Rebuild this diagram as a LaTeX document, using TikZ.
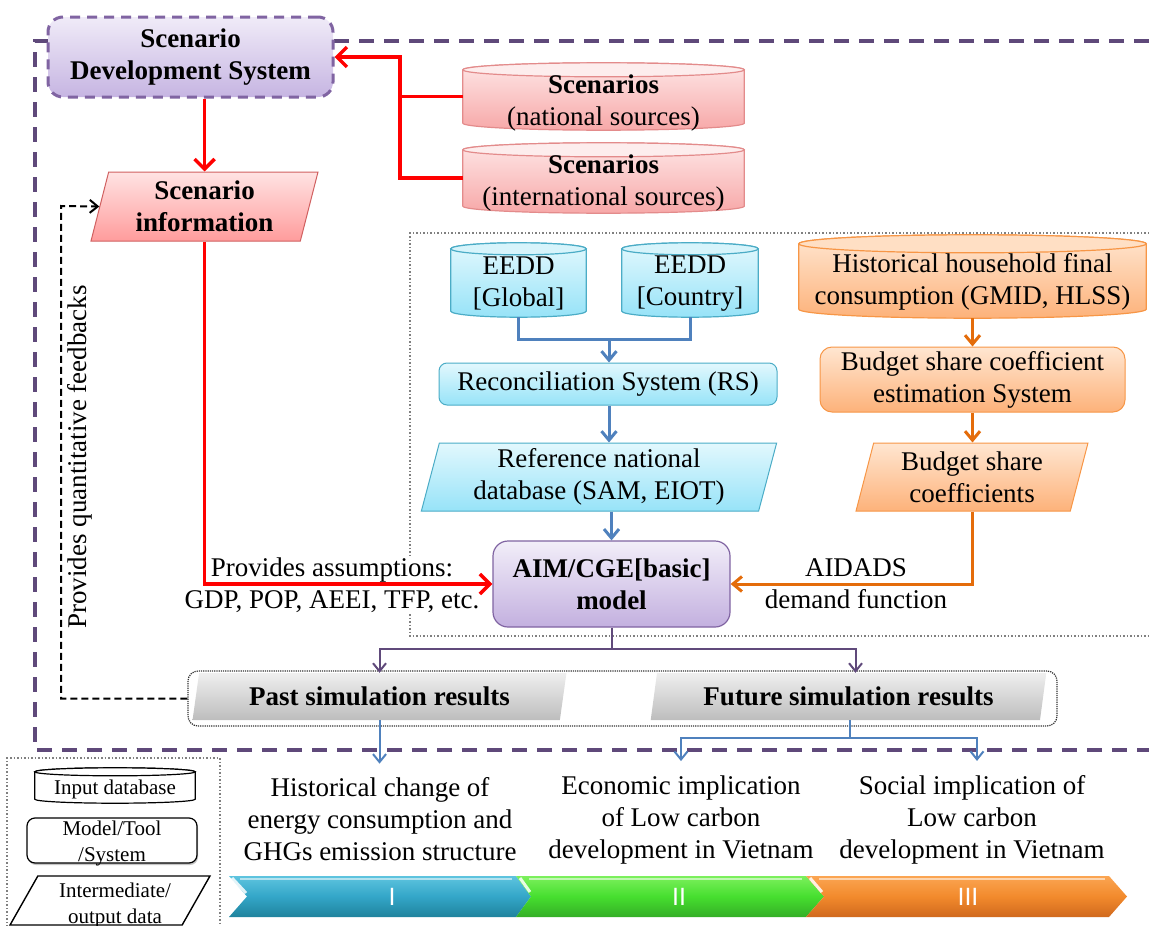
\documentclass[tikz,border=0pt]{standalone}
\usepackage{fontspec}
\setmainfont{Liberation Serif}
\newfontfamily\labsans{Liberation Sans}
\usetikzlibrary{shapes.geometric,arrows.meta,calc,shadows}

\definecolor{frameC}{HTML}{5F497A}
\definecolor{sdsBd}{HTML}{8064A2}
\definecolor{sdsTop}{HTML}{F0EBF8}
\definecolor{sdsBot}{HTML}{C6B5E2}
\definecolor{redBd}{HTML}{E38B8B}
\definecolor{redTop}{HTML}{FEE6E6}
\definecolor{redBot}{HTML}{F7A8A8}
\definecolor{redEll}{HTML}{FDEDED}
\definecolor{siBd}{HTML}{D06060}
\definecolor{siTop}{HTML}{FFE3E3}
\definecolor{siBot}{HTML}{FF9C9C}
\definecolor{blueBd}{HTML}{4BACC6}
\definecolor{blueTop}{HTML}{E2F8FD}
\definecolor{blueBot}{HTML}{97E3F8}
\definecolor{blueEll}{HTML}{D7F4FB}
\definecolor{oraBd}{HTML}{F79646}
\definecolor{oraTop}{HTML}{FFE6D1}
\definecolor{oraBot}{HTML}{FDB27A}
\definecolor{oraEll}{HTML}{FFDFC4}
\definecolor{aimTop}{HTML}{F2EEF9}
\definecolor{aimBot}{HTML}{C3B0DF}
\definecolor{grTop}{HTML}{EFEFEF}
\definecolor{grBot}{HTML}{BDBDBD}
\definecolor{lnRed}{HTML}{FF0000}
\definecolor{lnBlue}{HTML}{4F81BD}
\definecolor{lnOra}{HTML}{E46C0A}
\definecolor{lnPur}{HTML}{604A7B}
\definecolor{bTop}{HTML}{5EC4DF}
\definecolor{bMid}{HTML}{33A6C8}
\definecolor{bBot}{HTML}{1F839D}
\definecolor{gTop}{HTML}{7CF05C}
\definecolor{gMid}{HTML}{46DF2F}
\definecolor{gBot}{HTML}{34AE26}
\definecolor{oTop}{HTML}{FBA552}
\definecolor{oMid}{HTML}{F28A2C}
\definecolor{oBot}{HTML}{D0691E}

\newcommand\drawcyl[6]{%
  \path[draw=#3, line width=1.2pt, top color=#4, bottom color=#5]
    let \p1=(#1.north west), \p2=(#1.south east), \n1={(\x2-\x1)/2} in
    (\x1,\y1-#2pt) -- (\x1,\y2+#2pt)
    arc[start angle=180, end angle=360, x radius=\n1, y radius=#2pt]
    -- (\x2,\y1-#2pt)
    arc[start angle=0, end angle=180, x radius=\n1, y radius=#2pt] -- cycle;
  \path[draw=#3, line width=1.2pt, fill=#6]
    let \p1=(#1.north west), \p2=(#1.south east), \n1={(\x2-\x1)/2} in
    (\x1+\n1,\y1-#2pt) ellipse[x radius=\n1, y radius=#2pt];
}

\tikzset{
  txt/.style={font=\fontsize{27}{32}\selectfont, align=center, inner sep=0pt},
  txtb/.style={font=\fontsize{27}{32}\selectfont\bfseries, align=center, inner sep=0pt},
  lgtxt/.style={font=\fontsize{21}{26}\selectfont, align=center, inner sep=0pt},
  geo/.style={inner sep=0pt, draw=none},
  frameline/.style={draw=frameC, line width=4pt, dash pattern=on 15pt off 10pt},
  graydot/.style={draw=gray, line width=1.5pt, dotted},
  sds/.style={rectangle, rounded corners=15pt, draw=sdsBd, line width=3pt,
    dash pattern=on 10pt off 7pt, top color=sdsTop, bottom color=sdsBot,
    minimum width=285pt, minimum height=80pt, txtb},
  para/.style={trapezium, trapezium stretches=true, trapezium left angle=76,
    trapezium right angle=104, inner sep=0pt},
  siBox/.style={para, draw=siBd, line width=1pt, top color=siTop, bottom color=siBot,
    minimum width=227pt, minimum height=69pt, txtb},
  blueRound/.style={rectangle, rounded corners=8pt, draw=blueBd, line width=1pt,
    top color=blueTop, bottom color=blueBot, txt},
  bluePara/.style={para, draw=blueBd, line width=1pt, top color=blueTop, bottom color=blueBot, txt},
  oraRound/.style={rectangle, rounded corners=12pt, draw=oraBd, line width=1pt,
    top color=oraTop, bottom color=oraBot, txt},
  oraPara/.style={para, draw=oraBd, line width=1pt, top color=oraTop, bottom color=oraBot, txt},
  aimBox/.style={rectangle, rounded corners=15pt, draw=sdsBd, line width=1.2pt,
    top color=aimTop, bottom color=aimBot, minimum width=237pt, minimum height=86pt, txtb},
  simRes/.style={para, draw=none, top color=grTop, bottom color=grBot,
    minimum height=47pt, txtb},
  simFrame/.style={rectangle, rounded corners=10pt, draw=black!80, line width=1.2pt,
    densely dotted, minimum width=869pt, minimum height=55pt, inner sep=0pt},
  lgBox/.style={rectangle, rounded corners=8pt, draw=black, line width=1.2pt, fill=white,
    drop shadow={opacity=0.45, shadow xshift=1pt, shadow yshift=-2pt},
    minimum width=170pt, minimum height=45pt, inner sep=0pt},
  lgPara/.style={trapezium, trapezium stretches=true, trapezium left angle=78,
    trapezium right angle=102, draw=black, line width=1.4pt, fill=white,
    minimum width=200pt, minimum height=49pt, inner sep=0pt},
  redArr/.style={draw=lnRed, line width=3.5pt},
  blueArr/.style={draw=lnBlue, line width=3pt},
  oraArr/.style={draw=lnOra, line width=3pt},
  purArr/.style={draw=lnPur, line width=2pt},
  fbArr/.style={draw=black, line width=2pt, dash pattern=on 7pt off 4pt},
  bigTip/.style={-{Straight Barb[length=10pt,width=20pt]}},
  midTip/.style={-{Straight Barb[length=9pt,width=15pt]}},
  smallTip/.style={-{Straight Barb[length=8pt,width=13pt]}},
  bandLab/.style={font=\labsans\fontsize{25}{28}\selectfont, text=white, inner sep=0pt},
  bandHi/.style={draw=white, line width=2.5pt, opacity=0.55},
}

\begin{document}
\begin{tikzpicture}[x=1pt,y=-1pt]
\useasboundingbox (0,0) rectangle (1149,926);

% frames
\draw[frameline] (1149,41) -- (35,41) -- (35,750) -- (1149,750);
\draw[graydot] (1149,233) -- (410,233) -- (410,636) -- (1149,636);
\draw[graydot] (7,930) -- (7,758) -- (220,758) -- (220,930);

% Scenario Development System
\node[sds] (SDS) at (190.5,57) {Scenario\\Development System};

% Scenario cylinders
\node[geo, minimum width=281pt, minimum height=67pt] (nat) at (603.5,96.5) {};
\drawcyl{nat}{7}{redBd}{redTop}{redBot}{redEll}
\node[txt] (natT) at (603.5,103.5) {\textbf{Scenarios}\\(national sources)};
\node[geo, minimum width=281pt, minimum height=70pt] (intl) at (603.5,178) {};
\drawcyl{intl}{7}{redBd}{redTop}{redBot}{redEll}
\node[txt] (intlT) at (603.5,183.5) {\textbf{Scenarios}\\(international sources)};

% Scenario information
\node[siBox] (SI) at (204.5,206.5) {Scenario\\information};

% EEDD cylinders
\node[geo, minimum width=135pt, minimum height=74pt] (gl) at (518.5,280) {};
\drawcyl{gl}{6}{blueBd}{blueTop}{blueBot}{blueEll}
\node[txt] (glT) at (518.5,283.5) {EEDD\\{[Global]}};
\node[geo, minimum width=136pt, minimum height=74pt] (co) at (690,280) {};
\drawcyl{co}{6}{blueBd}{blueTop}{blueBot}{blueEll}
\node[txt] (coT) at (690,283.5) {EEDD\\{[Country]}};

% Historical household
\node[geo, minimum width=347pt, minimum height=83pt] (hh) at (972.5,276.5) {};
\drawcyl{hh}{9}{oraBd}{oraTop}{oraBot}{oraEll}
\node[txt] (hhT) at (972.5,281.5) {Historical household final\\consumption (GMID, HLSS)};

% RS and reference db
\node[blueRound, minimum width=338pt, minimum height=42pt] (RS) at (608,384) {Reconciliation System (RS)};
\node[bluePara, minimum width=356pt, minimum height=68pt] (Ref) at (599,477) {Reference national\\database (SAM, EIOT)};

% Budget share
\node[oraRound, minimum width=305pt, minimum height=65pt] (BSE) at (972.5,379.5) {Budget share coefficient\\estimation System};
\node[oraPara, minimum width=232pt, minimum height=68pt] (BSC) at (972,477) {Budget share\\coefficients};

% labels near AIM
\node[txt, fill=white, inner sep=2pt] (assum) at (332,585) {Provides assumptions:\\GDP, POP, AEEI, TFP, etc.};
\node[txt] (aid) at (856,584) {AIDADS\\demand function};

% AIM model
\node[aimBox] (AIM) at (611.5,584) {AIM/CGE[basic]\\model};

% simulation results
\node[simFrame] (simF) at (622.5,698.5) {};
\node[simRes, minimum width=375pt] (Past) at (379.5,696.5) {Past simulation results};
\node[simRes, minimum width=397pt] (Fut) at (848.5,696.5) {Future simulation results};

% feedback label
\node[txt, rotate=90] (fbT) at (80,457) {Provides quantitative feedbacks};

% bottom texts
\node[txt, inner ysep=14pt] (b1) at (380,819.5) {Historical change of\\energy consumption and\\GHGs emission structure};
\node[txt, inner ysep=14pt] (b2) at (681,819.5) {Economic implication\\of Low carbon\\development in Vietnam};
\node[txt, inner ysep=14pt] (b3) at (972,819.5) {Social implication of\\Low carbon\\development in Vietnam};

% band
\path[top color=bTop, bottom color=bBot, middle color=bMid]
  (229,876) -- (516,876) -- (531,896.5) -- (516,917) -- (229,917) -- (247,896.5) -- cycle;
\path[top color=gTop, bottom color=gBot, middle color=gMid]
  (516,876) -- (806,876) -- (824,896.5) -- (806,917) -- (516,917) -- (531,896.5) -- cycle;
\path[top color=oTop, bottom color=oBot, middle color=oMid]
  (806,876) -- (1109,876) -- (1127,896.5) -- (1109,917) -- (806,917) -- (824,896.5) -- cycle;
\draw[bandHi] (240,879) -- (512,879);
\draw[bandHi] (529,879) -- (802,879);
\draw[bandHi] (819,879) -- (1105,879);
\draw[draw=white, line width=3pt, opacity=0.85] (232,878) -- (246,893);
\draw[draw=white, line width=3pt, opacity=0.85] (520,878) -- (530,892);
\draw[draw=white, line width=3pt, opacity=0.85] (810,878) -- (822,892);
\node[bandLab] (L1) at (392,896.5) {I};
\node[bandLab] (L2) at (679,896.5) {II};
\node[bandLab] (L3) at (968,896.5) {III};

% legend
\node[geo, minimum width=160pt, minimum height=35pt] (lgI) at (115,785.5) {};
\drawcyl{lgI}{4}{black}{white}{white}{white}
\node[lgtxt] (lgIT) at (115,789) {Input database};
\node[lgBox] (lgM) at (112,840.5) {};
\node[lgtxt] (lgMT) at (112,843.5) {Model/Tool\\/System};
\node[lgPara] (lgP) at (110,900.5) {\phantom{X}};
\node[lgtxt] (lgPT) at (115,905) {Intermediate/\\output data};

% ---------- connectors ----------
\coordinate (rj) at (400,57);
\draw[redArr] (intl.west) -| (rj);
\draw[redArr, bigTip] (nat.west) -| (rj) -- (SDS.east);
\draw[redArr, bigTip] (SI.north |- SDS.south) -- (SI.north);
\draw[redArr, bigTip] (SI.south) |- (AIM.west);

\coordinate (bm) at (609,339);
\draw[blueArr] (gl.south) |- (bm) -| (co.south);
\draw[blueArr, midTip] (bm) -- (RS.north -| bm);
\draw[blueArr, midTip] (RS.south -| bm) -- (Ref.north -| bm);
\draw[blueArr, midTip] (AIM.north |- Ref.south) -- (AIM.north);

\draw[oraArr, midTip] (hh.south) -- (BSE.north);
\draw[oraArr, midTip] (BSE.south) -- (BSE.south |- BSC.north);
\draw[oraArr, midTip] (BSC.south) |- (AIM.east);

\coordinate (pm) at (611.5,649);
\draw[purArr] (AIM.south) -- (pm);
\draw[purArr, smallTip] (pm) -| (Past.north);
\draw[purArr, smallTip] (pm) -| ([xshift=7pt]Fut.north);

\coordinate (fm) at (850,738);
\draw[blueArr, line width=2pt, smallTip] (Past.south) -- (Past.south |- b1.north);
\draw[blueArr, line width=2pt] (Fut.south -| fm) -- (fm);
\draw[blueArr, line width=2pt, smallTip] (fm) -| (b2.north);
\draw[blueArr, line width=2pt, smallTip] (fm) -| ([xshift=5pt]b3.north);

\coordinate (fbc) at (61,206);
\draw[fbArr, smallTip] (simF.west) -| (fbc) -- (SI.west);
\end{tikzpicture}
\end{document}
